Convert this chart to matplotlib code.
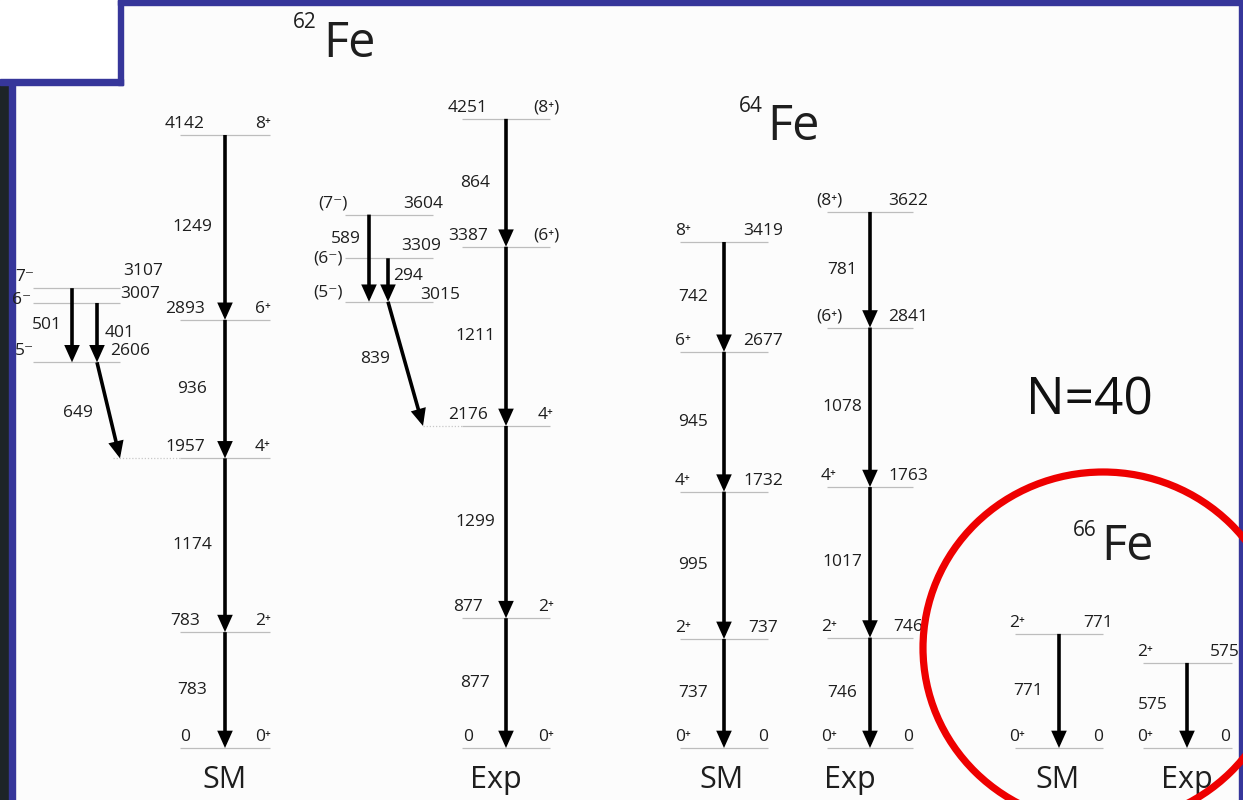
import matplotlib
matplotlib.use("Agg")
import matplotlib.pyplot as plt
from matplotlib.patches import Rectangle, Ellipse, FancyArrowPatch, ArrowStyle

# ---------------- data (keV) ----------------
fe62_sm_E = [0, 783, 1957, 2893, 4142]
fe62_sm_J = ["0⁺", "2⁺", "4⁺", "6⁺", "8⁺"]
fe62_sm_gamma = [783, 1174, 936, 1249]
fe62_sm_side_E = [3107, 3007, 2606]
fe62_sm_side_J = ["7⁻", "6⁻", "5⁻"]
fe62_sm_side_gamma = [501, 401, 649]

fe62_exp_E = [0, 877, 2176, 3387, 4251]
fe62_exp_J = ["0⁺", "2⁺", "4⁺", "(6⁺)", "(8⁺)"]
fe62_exp_gamma = [877, 1299, 1211, 864]
fe62_exp_side_E = [3604, 3309, 3015]
fe62_exp_side_J = ["(7⁻)", "(6⁻)", "(5⁻)"]
fe62_exp_side_gamma = [589, 294, 839]

fe64_sm_E = [0, 737, 1732, 2677, 3419]
fe64_sm_J = ["0⁺", "2⁺", "4⁺", "6⁺", "8⁺"]
fe64_sm_gamma = [737, 995, 945, 742]

fe64_exp_E = [0, 746, 1763, 2841, 3622]
fe64_exp_J = ["0⁺", "2⁺", "4⁺", "(6⁺)", "(8⁺)"]
fe64_exp_gamma = [746, 1017, 1078, 781]

fe66_sm_E = [0, 771]
fe66_sm_J = ["0⁺", "2⁺"]
fe66_sm_gamma = [771]

fe66_exp_E = [0, 575]
fe66_exp_J = ["0⁺", "2⁺"]
fe66_exp_gamma = [575]

column_labels = ["SM", "Exp", "SM", "Exp", "SM", "Exp"]

# ---------------- style ----------------
FONT = ["Open Sans", "DejaVu Sans"]
TXT = "#1e1e1e"
LVL = "#bdbdbd"
BLUE = "#36369a"
NUM = 12.5

W, H = 1243, 800
PXK = 0.148      # pixels per keV
Y0 = 748         # pixel row of the ground state

fig = plt.figure(figsize=(W / 100, H / 100), dpi=100)
fig.patch.set_facecolor("#fcfcfc")

bg = fig.add_axes([0, 0, 1, 1])
bg.set_xlim(0, W)
bg.set_ylim(H, 0)
bg.axis("off")

ax = fig.add_axes([0, 0, 1, 1])
ax.set_xlim(0, W)
ax.set_ylim((Y0 - H) / PXK, Y0 / PXK)
ax.axis("off")
ax.patch.set_alpha(0)

# slide frame
bg.add_patch(Rectangle((0, 0), W, H, color="#fcfcfc", zorder=0))
bg.add_patch(Rectangle((0, 80), 9, H, color="#1d2428", zorder=1))
bg.add_patch(Rectangle((9, 80), 6.5, H, color=BLUE, zorder=1))
bg.add_patch(Rectangle((0, 0), 120, 80, color="white", zorder=1))
bg.add_patch(Rectangle((118, 0), 5.5, 84.5, color=BLUE, zorder=2))
bg.add_patch(Rectangle((0, 78.5), 123, 6, color=BLUE, zorder=2))
bg.add_patch(Rectangle((118, 0), W, 5, color=BLUE, zorder=2))
bg.add_patch(Rectangle((1239, 0), 5, H, color=BLUE, zorder=2))


def txt(x, E, s, dy=0, size=NUM, ha="center", color=TXT):
    ax.annotate(s, xy=(x, E), xytext=(0, dy), textcoords="offset pixels",
                ha=ha, va="center", fontsize=size, color=color, family=FONT)


def level(x0, x1, E, ls="-", color=LVL):
    ax.plot([x0, x1], [E, E], color=color, lw=0.9, ls=ls, zorder=2,
            solid_capstyle="butt")


def arrow(xa, Ea, xb, Eb):
    st = ArrowStyle("-|>", head_length=0.8, head_width=0.36)
    p = FancyArrowPatch((xa, Ea), (xb, Eb), arrowstyle=st, mutation_scale=10,
                        lw=2.6, color="black", shrinkA=0, shrinkB=0, zorder=4,
                        capstyle="butt", joinstyle="miter")
    ax.add_patch(p)


def band(E, J, gam, x0, x1, xa, xe, xj, xg):
    for e, j in zip(E, J):
        level(x0, x1, e)
        txt(xe, e, str(e), dy=11)
        txt(xj, e, j, dy=11)
    for k, g in enumerate(gam):
        arrow(xa, E[k + 1], xa, E[k])
        txt(xg, (E[k] + E[k + 1]) / 2, str(g))


# ---- 62Fe ----
band(fe62_sm_E, fe62_sm_J, fe62_sm_gamma, 180, 270, 225, 185, 263, 192)
band(fe62_exp_E, fe62_exp_J, fe62_exp_gamma, 462, 550, 506, 468, 546, 475)

# SM side band
for e in fe62_sm_side_E:
    level(33, 120, e)
level(113, 180, fe62_sm_E[2], ls=(0, (1, 1.5)), color="#c8c8c8")
txt(25, fe62_sm_side_E[0], fe62_sm_side_J[0], dy=11)
txt(22, fe62_sm_side_E[1], fe62_sm_side_J[1], dy=3)
txt(24, fe62_sm_side_E[2], fe62_sm_side_J[2], dy=11)
txt(143, fe62_sm_side_E[0], str(fe62_sm_side_E[0]), dy=17)
txt(140, fe62_sm_side_E[1], str(fe62_sm_side_E[1]), dy=9)
txt(130, fe62_sm_side_E[2], str(fe62_sm_side_E[2]), dy=11)
arrow(72, fe62_sm_side_E[0], 72, fe62_sm_side_E[2])
arrow(97, fe62_sm_side_E[1], 97, fe62_sm_side_E[2])
arrow(97, fe62_sm_side_E[2], 120, fe62_sm_E[2])
txt(47, (fe62_sm_side_E[0] + fe62_sm_side_E[2]) / 2, str(fe62_sm_side_gamma[0]))
txt(120, (fe62_sm_side_E[1] + fe62_sm_side_E[2]) / 2, str(fe62_sm_side_gamma[1]))
txt(78, (fe62_sm_side_E[2] + fe62_sm_E[2]) / 2, str(fe62_sm_side_gamma[2]), dy=-3)

# Exp side band
for e in fe62_exp_side_E:
    level(345, 433, e)
level(423, 462, fe62_exp_E[2], ls=(0, (1, 1.5)), color="#c8c8c8")
txt(333, fe62_exp_side_E[0], fe62_exp_side_J[0], dy=11)
txt(328, fe62_exp_side_E[1], fe62_exp_side_J[1], dy=0)
txt(328, fe62_exp_side_E[2], fe62_exp_side_J[2], dy=9)
txt(423, fe62_exp_side_E[0], str(fe62_exp_side_E[0]), dy=11)
txt(421, fe62_exp_side_E[1], str(fe62_exp_side_E[1]), dy=12)
txt(440, fe62_exp_side_E[2], str(fe62_exp_side_E[2]), dy=7)
arrow(369, fe62_exp_side_E[0], 369, fe62_exp_side_E[2])
arrow(388, fe62_exp_side_E[1], 388, fe62_exp_side_E[2])
arrow(388, fe62_exp_side_E[2], 423, fe62_exp_E[2])
txt(346, (fe62_exp_side_E[0] + fe62_exp_side_E[2]) / 2, str(fe62_exp_side_gamma[0]), dy=19)
txt(408, (fe62_exp_side_E[1] + fe62_exp_side_E[2]) / 2, str(fe62_exp_side_gamma[1]), dy=4)
txt(375, (fe62_exp_side_E[2] + fe62_exp_E[2]) / 2, str(fe62_exp_side_gamma[2]), dy=5)

# ---- 64Fe ----
band(fe64_sm_E, fe64_sm_J, fe64_sm_gamma, 680, 768, 724, 763, 683, 693)
band(fe64_exp_E, fe64_exp_J, fe64_exp_gamma, 827, 913, 870, 908, 829, 842)

# ---- 66Fe ----
band(fe66_sm_E, fe66_sm_J, fe66_sm_gamma, 1015, 1103, 1059, 1098, 1017, 1028)
band(fe66_exp_E, fe66_exp_J, fe66_exp_gamma, 1143, 1232, 1187, 1225, 1145, 1153)

# column labels
for x, s in zip([225, 496, 722, 850, 1058, 1187], column_labels):
    bg.text(x, 780, s, ha="center", va="center", fontsize=22, color=TXT,
            family=FONT, zorder=5)


# nucleus titles
def nucleus(xs, ys, mass, xf, yf):
    bg.text(xs, ys, mass, ha="center", va="center", fontsize=15, color=TXT,
            family=FONT, zorder=5)
    bg.text(xf, yf, "Fe", ha="center", va="center", fontsize=35, color=TXT,
            family=FONT, zorder=5)


nucleus(305, 23, "62", 349, 44)
nucleus(751, 106, "64", 793, 127)
nucleus(1085, 531, "66", 1127, 547)

bg.text(1089, 401, "N=40", ha="center", va="center", fontsize=37,
        color="#111111", family=FONT, zorder=5)

# red circle
circ = Ellipse((1103, 648), 2 * 180, 2 * 176, fill=False, edgecolor="#ee0000",
               lw=5.2, transform=bg.transData, zorder=6)
ax.add_patch(circ)

fig.savefig("out.png", dpi=100, facecolor=fig.get_facecolor())
